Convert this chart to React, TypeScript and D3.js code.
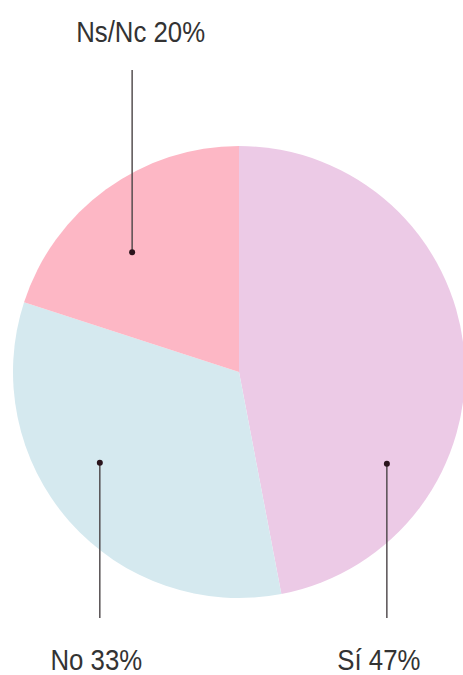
import React from "react";
import * as d3 from "d3";

// slice data, clockwise from 12 o'clock
const categories = ["Sí", "No", "Ns/Nc"];
const shares = [47, 33, 20];
const colors = ["#eccae6", "#d5e9ef", "#fdb7c5"];
// where the leader dot sits inside each slice (fraction of slice angle, fraction of radius)
const dotAngleFrac = [0.72, 0.57, 0.42];
const dotRadiusFrac = [0.77, 0.735, 0.71];
// label placement: top or bottom of the picture
const labelSide = ["bottom", "bottom", "top"];
const labelShift = [-8, -3.5, 8.5];

const W = 463, H = 675;

export default function App() {
  const cx = 239, cy = 372, R = 226;

  const pie = d3.pie<number>().sort(null).value((d) => d);
  const arcs = pie(shares);
  const arc = d3.arc<d3.PieArcDatum<number>>().innerRadius(0).outerRadius(R);

  const topLineEnd = 70, bottomLineEnd = 618;
  const topBaseline = 42, bottomBaseline = 670;

  return (
    <svg
      width={W}
      height={H}
      style={{ position: "absolute", left: 0, top: 0, background: "#fff" }}
    >
      <g transform={`translate(${cx},${cy})`}>
        {arcs.map((a, i) => (
          <path key={categories[i]} d={arc(a) || ""} fill={colors[i]} />
        ))}
      </g>
      {arcs.map((a, i) => {
        const ang = a.startAngle + (a.endAngle - a.startAngle) * dotAngleFrac[i];
        const [px, py] = d3.pointRadial(ang, R * dotRadiusFrac[i]);
        const x = cx + px, y = cy + py;
        const top = labelSide[i] === "top";
        const tx = x + labelShift[i];
        return (
          <g key={"lbl" + i}>
            <line
              x1={x}
              y1={y}
              x2={x}
              y2={top ? topLineEnd : bottomLineEnd}
              stroke="#4a4446"
              strokeWidth={1.4}
            />
            <circle cx={x} cy={y} r={3} fill="#2a141c" />
            <text
              transform={`translate(${tx},${top ? topBaseline : bottomBaseline}) scale(0.86,1)`}
              textAnchor="middle"
              fontFamily="'Liberation Sans', Arial, sans-serif"
              fontSize={30}
              fill="#333"
            >
              {`${categories[i]} ${shares[i]}%`}
            </text>
          </g>
        );
      })}
    </svg>
  );
}
